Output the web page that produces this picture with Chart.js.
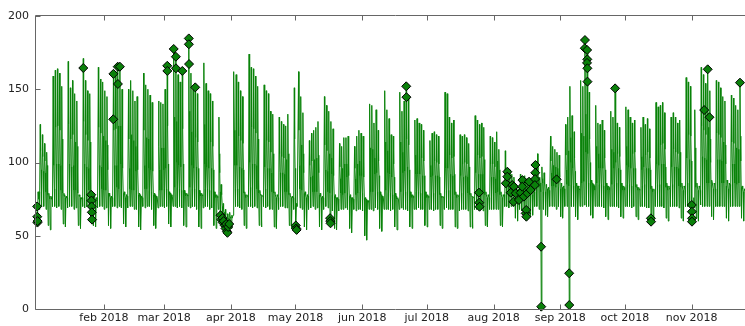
<!DOCTYPE html>
<html>
<head>
<meta charset="utf-8">
<script src="https://cdn.jsdelivr.net/npm/chart.js@4.4.1/dist/chart.umd.min.js"></script>
<style>
html,body{margin:0;padding:0;background:#fff;overflow:hidden;width:745px;height:326px;}
#wrap{position:absolute;left:0;top:0;width:760px;height:326px;}
</style>
</head>
<body>
<div id="wrap"><canvas id="c" width="760" height="326"></canvas></div>
<script>
// ---- data (one row per week, Mon..Sun, starting Mon 2018-01-01) ----
const startDate = '2018-01-01';
const dailyPeak = [
  80,126,119,113,107,79,77,
  159,163,164,161,152,79,77,
  169,151,156,147,142,78,76,
  171,156,149,147,80,77,76,
  165,157,155,149,145,79,77,
  161,162,166,166,150,80,78,
  150,156,149,142,145,79,77,
  161,153,150,146,141,79,77,
  142,141,140,150,167,80,78,
  178,173,160,155,163,81,79,
  185,161,150,152,147,81,79,
  168,154,149,147,142,80,78,
  131,85,72,68,65,66,64,
  162,160,155,149,145,80,78,
  174,165,164,159,152,81,78,
  153,149,147,135,133,80,78,
  131,128,126,125,133,79,77,
  151,72,162,145,134,80,78,
  115,120,122,124,128,79,77,
  145,139,135,128,123,78,76,
  113,111,117,117,118,78,76,
  111,118,122,120,118,76,74,
  140,139,127,136,122,80,77,
  149,136,130,119,118,79,76,
  148,135,142,153,146,80,78,
  129,130,127,126,122,80,78,
  115,120,121,119,118,79,77,
  148,147,131,127,129,80,78,
  119,118,119,117,113,79,77,
  132,129,126,127,124,80,78,
  118,117,114,121,109,80,78,
  108,96,95,92,90,84,82,
  92,90,91,89,88,84,82,
  99,106,90,97,93,85,83,
  118,111,109,107,105,86,84,
  126,131,152,132,121,86,84,
  156,152,184,177,148,88,85,
  139,127,126,129,122,86,84,
  135,131,151,127,124,86,84,
  138,136,131,127,129,85,83,
  124,131,126,130,123,84,82,
  141,138,139,141,134,86,84,
  131,134,131,127,129,86,84,
  158,155,152,72,136,86,84,
  165,160,154,164,149,88,86,
  156,155,151,145,142,88,86,
  146,144,139,136,155,84,82
];
const dailyLow = [
  58,68,70,70,68,57,54,
  70,70,69,70,68,58,56,
  69,70,70,68,69,57,55,
  70,69,70,70,60,57,56,
  69,70,70,68,69,57,55,
  70,70,69,70,69,58,56,
  69,70,70,68,68,56,54,
  70,69,70,70,68,57,55,
  69,70,70,69,70,58,56,
  70,70,69,70,69,57,56,
  70,69,70,70,68,56,55,
  69,70,70,68,69,57,55,
  68,61,58,54,52,55,55,
  68,70,70,69,68,57,55,
  70,70,69,70,69,57,56,
  70,69,70,68,68,56,55,
  68,70,70,69,69,57,55,
  68,54,70,69,68,56,54,
  68,69,70,68,69,56,54,
  68,70,69,58,67,55,54,
  67,68,68,69,68,55,52,
  68,67,68,68,67,50,47,
  68,68,67,69,68,55,53,
  68,68,68,67,68,56,54,
  68,69,68,68,67,56,55,
  68,68,69,68,68,57,56,
  68,68,67,68,68,57,55,
  68,69,68,68,68,56,55,
  67,68,68,68,67,56,55,
  68,68,69,68,67,57,56,
  68,68,68,68,68,57,56,
  70,70,69,70,70,62,60,
  68,67,66,63,66,63,64,
  70,70,68,1.6,68,64,63,
  70,70,70,68,70,63,62,
  70,70,2.7,70,70,63,61,
  70,70,71,70,70,64,62,
  70,70,70,70,69,63,61,
  70,70,70,70,69,63,62,
  70,70,70,69,70,63,61,
  70,70,70,69,69,58,62,
  70,70,70,70,69,62,60,
  70,70,70,70,69,62,60,
  70,70,70,58,69,62,60,
  71,70,70,70,70,63,61,
  70,70,70,70,70,62,60,
  70,70,70,70,70,62,60
];
const nightLevel = [
  72,80,81,80,80,78,75,
  76,82,82,82,81,79,76,
  76,82,82,81,81,79,76,
  76,82,82,81,80,77,75,
  76,82,82,81,81,79,76,
  76,82,83,82,82,79,76,
  76,82,81,81,81,78,76,
  76,82,82,81,80,78,76,
  76,81,81,82,82,79,77,
  77,83,83,82,81,80,77,
  77,83,82,82,81,79,77,
  77,82,82,81,81,79,76,
  76,80,70,64,62,62,62,
  64,82,82,82,81,79,76,
  77,83,83,82,82,79,77,
  77,82,82,81,80,79,76,
  76,81,80,80,80,78,76,
  76,80,70,82,81,79,76,
  76,80,80,80,80,78,76,
  76,81,80,79,78,77,75,
  75,79,78,79,79,77,75,
  75,78,79,80,79,76,73,
  74,80,80,79,80,78,76,
  76,81,79,79,78,77,75,
  75,80,79,80,81,79,76,
  76,80,80,79,79,78,76,
  76,79,79,79,79,78,76,
  76,81,81,80,79,78,76,
  76,79,79,79,79,78,76,
  76,80,80,79,79,78,76,
  76,79,79,79,80,78,76,
  78,82,81,80,80,80,79,
  79,80,79,78,78,78,78,
  79,82,83,80,80,80,79,
  80,84,84,83,83,82,80,
  80,85,84,85,84,82,80,
  81,86,87,88,86,84,82,
  81,86,85,85,84,83,81,
  81,85,85,86,85,83,81,
  81,85,85,84,84,83,81,
  81,84,85,84,84,82,80,
  80,85,85,85,85,83,81,
  81,85,85,84,84,83,81,
  81,86,86,85,76,83,81,
  81,87,87,86,86,85,82,
  82,87,86,86,86,84,82,
  81,86,86,85,86,83,80
];
const afternoonLevel = [
  76,108,104,101,98,77,76,
  122,124,125,122,116,77,76,
  126,116,119,114,111,77,75,
  128,119,115,114,77,76,75,
  124,120,118,115,112,77,76,
  122,123,125,125,116,78,77,
  116,119,115,111,113,77,76,
  122,117,116,113,110,77,76,
  111,110,110,116,125,78,77,
  131,128,121,118,123,79,78,
  135,121,116,117,114,79,78,
  126,118,115,114,111,78,77,
  106,80,68,64,62,63,62,
  122,121,118,115,113,78,77,
  129,124,123,120,116,79,77,
  117,115,114,107,106,78,77,
  106,104,103,102,106,77,76,
  116,70,122,112,106,78,77,
  98,101,102,103,105,77,76,
  112,108,106,103,100,76,75,
  97,96,99,99,100,76,75,
  96,99,101,100,99,75,73,
  110,109,103,108,101,78,76,
  114,108,105,99,99,77,75,
  114,107,110,116,112,78,77,
  105,105,104,103,101,78,77,
  98,101,101,100,99,77,76,
  114,113,105,103,104,78,77,
  100,99,100,99,97,77,76,
  106,105,103,104,102,78,77,
  99,99,97,101,95,78,77,
  95,90,89,87,86,82,81,
  87,86,86,85,84,82,81,
  91,94,86,89,88,83,82,
  101,98,97,96,95,84,83,
  105,108,117,108,103,84,83,
  120,118,133,130,116,86,84,
  111,106,105,107,103,84,83,
  109,107,116,106,104,84,83,
  111,110,107,106,107,83,82,
  104,107,105,107,103,82,81,
  113,111,112,113,109,84,83,
  107,109,107,106,107,84,83,
  121,119,118,70,110,84,83,
  125,122,119,124,116,86,85,
  120,119,117,114,112,86,85,
  114,113,110,109,118,82,81
];
const eveningLevel = [
  75,95,94,93,92,77,75,
  98,99,99,98,96,78,76,
  99,97,98,96,95,78,76,
  99,97,96,96,77,76,75,
  98,97,97,96,95,78,76,
  98,98,99,99,96,78,77,
  96,97,96,94,95,78,76,
  98,96,96,95,94,78,76,
  95,95,95,96,99,79,77,
  101,100,98,97,99,79,78,
  102,98,96,97,96,79,78,
  99,97,96,96,95,78,77,
  93,78,66,62,61,62,62,
  98,98,97,96,95,78,77,
  100,99,99,98,96,79,77,
  97,96,96,93,93,78,77,
  93,93,92,92,93,77,76,
  96,70,98,96,93,78,77,
  90,91,92,92,93,77,76,
  95,94,93,92,91,76,75,
  89,89,90,90,91,76,75,
  89,90,91,91,90,75,73,
  94,94,92,93,91,78,76,
  96,93,92,90,90,77,75,
  96,93,94,97,95,78,77,
  92,92,92,91,91,78,77,
  90,91,91,91,90,77,76,
  96,96,92,91,92,78,77,
  91,90,91,90,89,77,76,
  93,92,92,92,91,78,77,
  90,90,89,91,88,78,77,
  89,87,86,85,85,81,80,
  84,83,83,82,82,80,80,
  87,89,84,86,85,82,81,
  93,92,91,91,90,83,82,
  95,96,100,96,94,84,82,
  102,101,107,106,100,86,84,
  98,96,96,96,95,84,83,
  97,96,100,96,95,84,83,
  98,97,96,96,96,83,82,
  95,97,96,96,95,82,81,
  99,98,99,99,97,84,83,
  97,97,97,96,96,84,83,
  103,102,101,70,98,84,83,
  104,103,102,103,100,86,85,
  102,102,101,99,99,86,85,
  99,99,98,97,101,82,81
];
const anomalyTimes = [
  '2018-01-01 01:00','2018-01-01 02:00','2018-01-01 04:00','2018-01-01 06:00',
  '2018-01-22 11:00',
  '2018-01-26 04:00','2018-01-26 06:00','2018-01-26 08:00','2018-01-26 10:00','2018-01-26 13:00',
  '2018-02-05 11:00','2018-02-05 09:00','2018-02-07 11:00','2018-02-07 13:00','2018-02-08 11:00',
  '2018-03-02 11:00','2018-03-02 12:00','2018-03-05 11:00','2018-03-06 11:00','2018-03-06 12:00',
  '2018-03-09 11:00','2018-03-12 11:00','2018-03-12 12:00','2018-03-12 14:00','2018-03-15 11:00',
  '2018-03-27 05:00','2018-03-27 14:00','2018-03-28 02:00','2018-03-28 06:00','2018-03-28 16:00',
  '2018-03-29 04:00','2018-03-29 12:00','2018-03-29 20:00','2018-03-30 04:00','2018-03-30 10:00',
  '2018-03-30 18:00','2018-03-31 06:00',
  '2018-05-01 04:00','2018-05-01 09:00','2018-05-01 13:00',
  '2018-05-17 02:00','2018-05-17 04:00','2018-05-17 07:00',
  '2018-06-21 11:00','2018-06-21 13:00',
  '2018-07-25 06:00','2018-07-25 09:00','2018-07-25 12:00',
  '2018-08-06 17:00','2018-08-07 10:00','2018-08-07 09:00','2018-08-09 00:00','2018-08-09 17:00',
  '2018-08-10 12:00','2018-08-10 06:00','2018-08-11 07:00','2018-08-12 19:00','2018-08-13 14:00',
  '2018-08-14 10:00','2018-08-14 08:00','2018-08-15 02:00','2018-08-15 22:00','2018-08-16 17:00',
  '2018-08-16 04:00','2018-08-16 06:00','2018-08-17 12:00','2018-08-18 05:00',
  '2018-08-20 11:00','2018-08-20 09:00','2018-08-20 07:00','2018-08-20 05:00',
  '2018-08-23 02:00','2018-08-23 04:00','2018-08-30 07:00','2018-09-05 03:00','2018-09-05 04:00',
  '2018-09-12 11:00','2018-09-12 09:00','2018-09-13 11:00','2018-09-13 13:00','2018-09-13 10:00',
  '2018-09-13 14:00','2018-09-13 15:00','2018-09-26 11:00',
  '2018-10-13 02:00','2018-10-13 04:00',
  '2018-11-01 02:00','2018-11-01 03:00','2018-11-01 05:00','2018-11-01 04:00',
  '2018-11-06 20:00','2018-11-08 11:00','2018-11-09 07:00','2018-11-23 11:00'
];
const anomalyValues = [
  70,63,59,60,
  164.5,
  78,74,70,66,61,
  160.5,129.5,165.4,153.6,165.4,
  166,162.5,177.5,172.2,164.3,
  162.5,184.7,180.7,167.2,151.3,
  64,61,62,59,60,
  57,55,58,53,52,
  56,58,
  57,55,54,
  62,60,58.5,
  152,144.6,
  79.4,72.6,69.8,
  85.8,93.7,90.3,79.4,84.6,
  83.5,73.2,79,74.4,79.4,
  88,83.5,76.7,65.3,79,
  67.6,63,86.9,81.2,
  98.3,93,88.7,84.6,
  42.5,1.6,88.5,24.4,2.7,
  183.6,178,176.8,170.4,168,
  164.3,155.2,150.6,
  61.9,59.6,
  71,66.4,61.9,59.6,
  135.8,163.6,130.9,154.5
];
const tickDates = ['2018-02-01','2018-03-01','2018-04-01','2018-05-01','2018-06-01',
                   '2018-07-01','2018-08-01','2018-09-01','2018-10-01','2018-11-01'];
const tickLabels = ['feb 2018','mar 2018','apr 2018','may 2018','jun 2018',
                    'jul 2018','aug 2018','sep 2018','oct 2018','nov 2018'];
const yTicks = [0, 50, 100, 150, 200];

// ---- helpers ----
const DAY = 86400000;
function parseDate(s) {
  const parts = s.split(' ');
  const [Y, M, D] = parts[0].split('-').map(Number);
  const [h, m] = (parts[1] || '00:00').split(':').map(Number);
  return Date.UTC(Y, M - 1, D, h, m);
}
const T0 = parseDate(startDate);
const dayOf = s => (parseDate(s) - T0) / DAY;

// one day = night (00h), early dip (04h), peak (11h), afternoon (15h), evening (20h)
const lineData = [];
for (let i = 0; i < dailyPeak.length; i++) {
  lineData.push({x: i, y: nightLevel[i]});
  lineData.push({x: i + 4 / 24, y: dailyLow[i]});
  lineData.push({x: i + 11 / 24, y: dailyPeak[i]});
  lineData.push({x: i + 15 / 24, y: afternoonLevel[i]});
  lineData.push({x: i + 20 / 24, y: eveningLevel[i]});
}
const anomalyData = anomalyTimes.map((t, i) => ({x: dayOf(t), y: anomalyValues[i]}));
const tickDays = tickDates.map(dayOf);

const FONT = {family: "'DejaVu Sans', 'Liberation Sans', sans-serif", size: 11};
const AXIS = '#666666';

const framePlugin = {
  id: 'frame',
  afterDraw(chart) {
    const {ctx, chartArea: a, scales} = chart;
    ctx.save();
    ctx.strokeStyle = AXIS;
    ctx.lineWidth = 1;
    const L = Math.round(a.left) - 0.5, R = Math.round(a.right) + 0.5;
    const T = Math.round(a.top) - 0.5, B = Math.round(a.bottom) + 0.5;
    ctx.beginPath();
    ctx.rect(L, T, R - L, B - T);
    ctx.stroke();
    ctx.beginPath();
    scales.x.ticks.forEach(t => {
      const px = Math.round(scales.x.getPixelForValue(t.value)) + 0.5;
      ctx.moveTo(px, B); ctx.lineTo(px, B - 5);
      ctx.moveTo(px, T); ctx.lineTo(px, T + 5);
    });
    scales.y.ticks.forEach(t => {
      const py = Math.round(scales.y.getPixelForValue(t.value)) + 0.5;
      ctx.moveTo(L, py); ctx.lineTo(L + 5, py);
      ctx.moveTo(R, py); ctx.lineTo(R - 5, py);
    });
    ctx.stroke();
    ctx.restore();
  }
};

new Chart(document.getElementById('c'), {
  type: 'scatter',
  data: {
    datasets: [
      {
        data: anomalyData,
        pointStyle: 'rectRot',
        pointRadius: 4.5,
        backgroundColor: '#0a800a',
        borderColor: '#000000',
        borderWidth: 1,
        clip: false,
        order: 0
      },
      {
        data: lineData,
        showLine: true,
        borderColor: '#0a830a',
        borderWidth: 1,
        pointRadius: 0,
        tension: 0,
        order: 1
      }
    ]
  },
  options: {
    responsive: false,
    devicePixelRatio: 1,
    animation: false,
    events: [],
    layout: {padding: {top: 16, right: 4, left: 0, bottom: 0}},
    plugins: {legend: {display: false}, tooltip: {enabled: false}},
    scales: {
      x: {
        type: 'linear',
        min: -0.5,
        max: 333.2,
        grid: {display: false, drawTicks: false},
        border: {display: false},
        afterFit: s => { s.height = 17; },
        afterBuildTicks: s => { s.ticks = tickDays.map(v => ({value: v})); },
        ticks: {
          autoSkip: false, maxRotation: 0, minRotation: 0, padding: 3,
          color: '#222', font: FONT,
          callback: (v, i) => tickLabels[i]
        }
      },
      y: {
        min: 0,
        max: 200,
        grid: {display: false, drawTicks: false},
        border: {display: false},
        afterFit: s => { s.width = 36; },
        afterBuildTicks: s => { s.ticks = yTicks.map(v => ({value: v})); },
        ticks: {padding: 7, color: '#222', font: FONT, callback: v => String(v)}
      }
    }
  },
  plugins: [framePlugin]
});
</script>
</body>
</html>
